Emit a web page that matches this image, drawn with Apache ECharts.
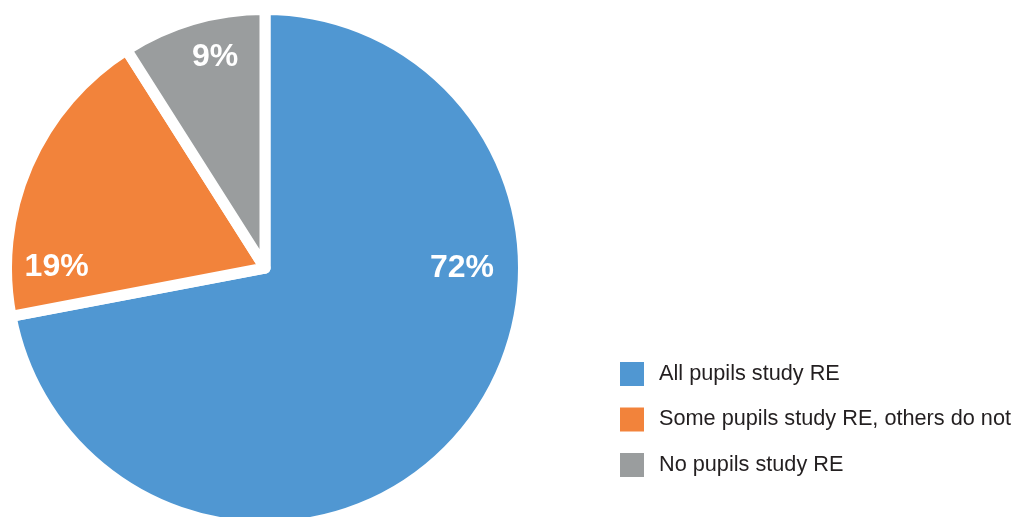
<!DOCTYPE html>
<html>
<head>
<meta charset="utf-8">
<script src="https://cdn.jsdelivr.net/npm/echarts@6/dist/echarts.min.js"></script>
<style>
html,body{margin:0;padding:0;background:#fff;}
#chart{width:1013px;height:517px;}
</style>
</head>
<body>
<div id="chart"></div>
<script>
const categories = ['All pupils study RE', 'Some pupils study RE, others do not', 'No pupils study RE'];
const values = [72, 19, 9];
const colors = ['#5097d2', '#f2833b', '#9a9d9e'];

// label offsets (px) from the default inside position
const labelOffsets = [[95, -84], [-87, 52], [-13, -84]];

const chart = echarts.init(document.getElementById('chart'));
chart.setOption({
  animation: false,
  legend: {
    orient: 'vertical',
    left: 620,
    top: 362,
    padding: 0,
    itemWidth: 24,
    itemHeight: 24,
    itemGap: 21.5,
    icon: 'rect',
    selectedMode: false,
    itemStyle: { borderWidth: 0 },
    textStyle: {
      fontFamily: 'Liberation Sans, Arial, sans-serif',
      fontSize: 21.7,
      lineHeight: 24,
      color: '#231f20',
      padding: [0, 0, 0, 10]
    },
    data: categories
  },
  series: [{
    type: 'pie',
    center: [265, 268],
    radius: [0, 258.5],
    startAngle: 90,
    clockwise: true,
    avoidLabelOverlap: false,
    itemStyle: { borderColor: '#ffffff', borderWidth: 11 },
    emphasis: { disabled: true },
    label: {
      show: true,
      position: 'inside',
      formatter: '{c}%',
      color: '#ffffff',
      fontFamily: 'Liberation Sans, Arial, sans-serif',
      fontWeight: 'bold',
      fontSize: 32
    },
    labelLine: { show: false },
    data: categories.map((name, i) => ({
      name: name,
      value: values[i],
      itemStyle: { color: colors[i] },
      label: { offset: labelOffsets[i] }
    }))
  }]
});
</script>
</body>
</html>
